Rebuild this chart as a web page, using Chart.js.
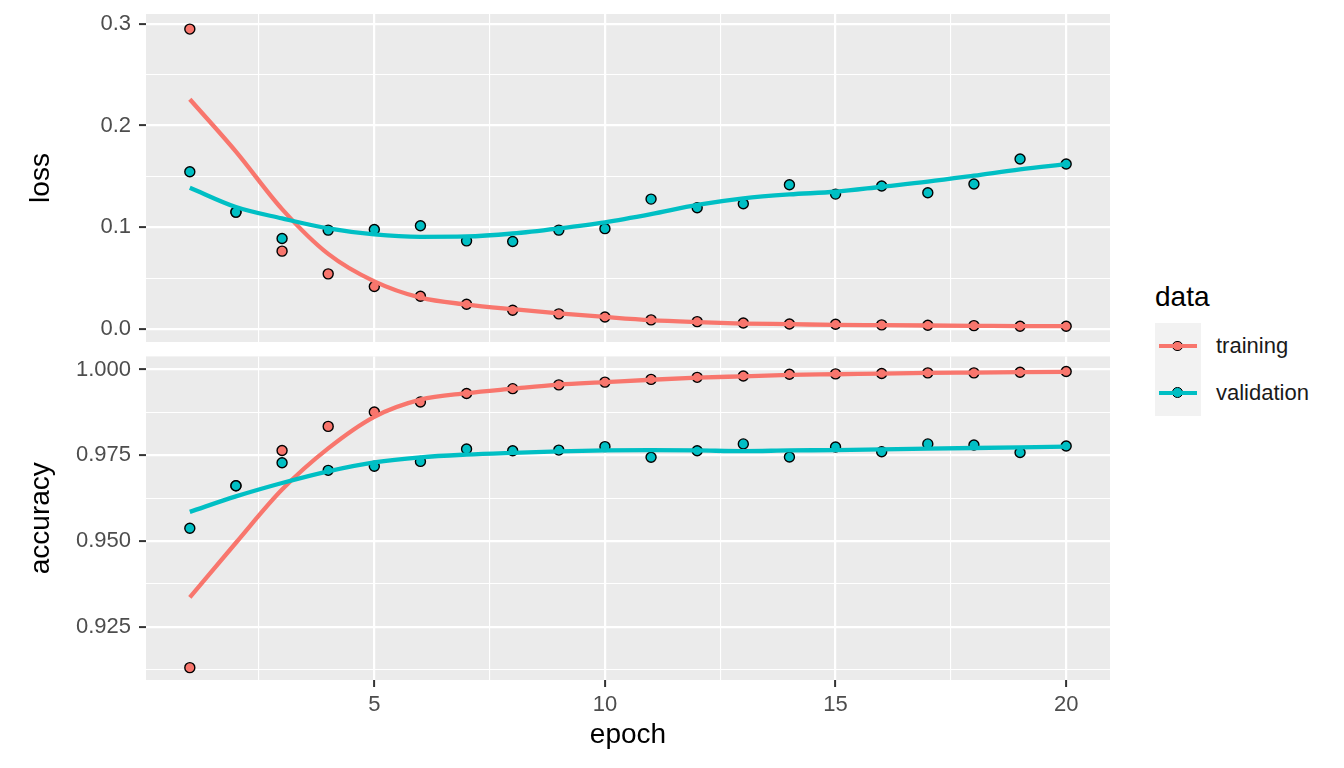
<!DOCTYPE html>
<html>
<head>
<meta charset="utf-8">
<title>loss / accuracy by epoch</title>
<script src="https://cdn.jsdelivr.net/npm/chart.js@4/dist/chart.umd.min.js"></script>
<style>
    body { margin: 0; background: #ffffff; font-family: "Liberation Sans", Arial, sans-serif; }
    #wrap { position: relative; width: 1344px; height: 768px; overflow: hidden; }
    #wrap canvas { position: absolute; left: 0; }
    #loss-chart { top: 0; }
    #accuracy-chart { top: 350px; }
    #legend-title { position: absolute; left: 1155px; top: 282px; font-size: 28px; line-height: 30px; color: #000; }
    #legend-keys { position: absolute; left: 1155px; top: 323px; }
    .legend-row { position: relative; height: 46.5px; }
    .legend-key { position: absolute; left: 0; top: 0; width: 46px; height: 46.5px; background: #F2F2F2; }
    .legend-key .dot { position: absolute; left: 17.4px; top: 17.6px; width: 8.6px; height: 8.6px; border: 1.3px solid #000; border-radius: 50%; }
    .legend-key .bar { position: absolute; left: 4px; top: 21.1px; width: 38px; height: 4.3px; }
    .legend-label { position: absolute; left: 61px; top: 0; line-height: 46.5px; font-size: 22px; color: #1a1a1a; white-space: nowrap; }
</style>
</head>
<body>
<div id="wrap">
    <canvas id="loss-chart" width="1120" height="350"></canvas>
    <canvas id="accuracy-chart" width="1120" height="418"></canvas>
    <div id="legend-title">data</div>
    <div id="legend-keys"></div>
</div>
<script>
// Values
const EPOCHS = [1, 2, 3, 4, 5, 6, 7, 8, 9, 10, 11, 12, 13, 14, 15, 16, 17, 18, 19, 20];
const SERIES_NAMES = ['training', 'validation'];
const SERIES_COLORS = ['#F8766D', '#00BFC4'];

const LOSS_TRAINING = [0.2947, 0.1150, 0.0767, 0.0544, 0.0420, 0.0324, 0.0246, 0.0187, 0.0151, 0.0121,
    0.0092, 0.0075, 0.0062, 0.0052, 0.0049, 0.0043, 0.0039, 0.0036, 0.0030, 0.0030];
const LOSS_VALIDATION = [0.1547, 0.1150, 0.0891, 0.0973, 0.0980, 0.1016, 0.0868, 0.0862, 0.0973, 0.0988,
    0.1278, 0.1193, 0.1232, 0.1419, 0.1327, 0.1406, 0.1340, 0.1426, 0.1672, 0.1622];
const ACC_TRAINING = [0.9131, 0.9661, 0.9764, 0.9834, 0.9876, 0.9905, 0.9930, 0.9944, 0.9955, 0.9963,
    0.9971, 0.9977, 0.9981, 0.9986, 0.9987, 0.9988, 0.9990, 0.9990, 0.9992, 0.9994];
const ACC_VALIDATION = [0.9537, 0.9661, 0.9728, 0.9706, 0.9718, 0.9732, 0.9768, 0.9763, 0.9765, 0.9775,
    0.9744, 0.9763, 0.9783, 0.9745, 0.9774, 0.9760, 0.9783, 0.9780, 0.9758, 0.9777];

// Smoothed (loess) curves, read at each epoch
const LOSS_TRAINING_SMOOTH = [0.2258, 0.1744, 0.1180, 0.0740, 0.0470, 0.0310, 0.0243, 0.0197, 0.0157, 0.0121,
    0.0089, 0.0070, 0.0056, 0.0050, 0.0043, 0.0040, 0.0037, 0.0034, 0.0031, 0.0030];
const LOSS_VALIDATION_SMOOTH = [0.1390, 0.1200, 0.1088, 0.0990, 0.0931, 0.0908, 0.0911, 0.0940, 0.0990, 0.1050,
    0.1130, 0.1220, 0.1285, 0.1324, 0.1350, 0.1399, 0.1449, 0.1508, 0.1570, 0.1622];
const ACC_TRAINING_SMOOTH = [0.9336, 0.9495, 0.9650, 0.9770, 0.9862, 0.9912, 0.9931, 0.9944, 0.9956, 0.9963,
    0.9970, 0.9976, 0.9980, 0.9984, 0.9986, 0.9988, 0.9990, 0.9991, 0.9992, 0.9993];
const ACC_VALIDATION_SMOOTH = [0.9585, 0.9630, 0.9669, 0.9703, 0.9729, 0.9744, 0.9752, 0.9757, 0.9761, 0.9764,
    0.9765, 0.9764, 0.9762, 0.9764, 0.9765, 0.9767, 0.9769, 0.9771, 0.9773, 0.9775];

// Axis breaks
const EPOCH_TICKS = [5, 10, 15, 20];
const EPOCH_TICK_LABELS = ['5', '10', '15', '20'];
const EPOCH_MINOR_TICKS = [2.5, 7.5, 12.5, 17.5];
const LOSS_TICKS = [0, 0.1, 0.2, 0.3];
const LOSS_TICK_LABELS = ['0.0', '0.1', '0.2', '0.3'];
const LOSS_MINOR_TICKS = [0.05, 0.15, 0.25];
const ACC_TICKS = [0.925, 0.95, 0.975, 1.0];
const ACC_TICK_LABELS = ['0.925', '0.950', '0.975', '1.000'];
const ACC_MINOR_TICKS = [0.9125, 0.9375, 0.9625, 0.9875];

const FONT = '"Liberation Sans", Arial, sans-serif';
Chart.defaults.font.family = FONT;

// Grey panel behind the grid lines
const panelBackground = {
    id: 'panelBackground',
    beforeDraw(chart) {
        const { ctx, chartArea } = chart;
        ctx.save();
        ctx.fillStyle = '#EBEBEB';
        ctx.fillRect(chartArea.left, chartArea.top, chartArea.width, chartArea.height);
        ctx.restore();
    }
};

/**
 * Build an axis definition with ggplot-like major/minor grid
 */
function buildAxis(majors, labels, minors, extra) {
    const axis = {
        type: 'linear',
        border: { display: false },
        afterBuildTicks(scale) {
            const ticks = majors.map(v => ({ value: v, isMajor: true }))
                .concat(minors.map(v => ({ value: v, isMajor: false })));
            ticks.sort((a, b) => a.value - b.value);
            scale.ticks = ticks;
        },
        ticks: {
            autoSkip: false,
            maxRotation: 0,
            color: '#4D4D4D',
            font: { size: 22 },
            callback(value) {
                const i = majors.indexOf(value);
                return i >= 0 ? labels[i] : '';
            }
        },
        grid: {
            color: '#FFFFFF',
            lineWidth: ctx => (ctx.tick && ctx.tick.isMajor) ? 2.2 : 1.1,
            tickLength: 7,
            tickWidth: 2,
            tickColor: ctx => (ctx.tick && ctx.tick.isMajor) ? '#333333' : 'rgba(0,0,0,0)'
        }
    };
    return Object.assign(axis, extra);
}

/**
 * Datasets for one panel: points first, smooth lines on top
 */
function buildDatasets(pointSeries, smoothSeries) {
    const datasets = [];
    pointSeries.forEach((values, i) => {
        datasets.push({
            label: SERIES_NAMES[i] + ' points',
            data: EPOCHS.map((e, k) => ({ x: e, y: values[k] })),
            showLine: false,
            pointRadius: 5,
            pointBorderWidth: 1.4,
            pointBorderColor: '#000000',
            pointBackgroundColor: SERIES_COLORS[i],
            backgroundColor: SERIES_COLORS[i],
            order: 4 - i
        });
    });
    smoothSeries.forEach((values, i) => {
        datasets.push({
            label: SERIES_NAMES[i],
            data: EPOCHS.map((e, k) => ({ x: e, y: values[k] })),
            showLine: true,
            borderColor: SERIES_COLORS[i],
            borderWidth: 4.3,
            pointRadius: 0,
            fill: false,
            cubicInterpolationMode: 'monotone',
            order: 2 - i
        });
    });
    return datasets;
}

function renderPanel(canvasId, opts) {
    const ctx = document.getElementById(canvasId).getContext('2d');
    return new Chart(ctx, {
        type: 'scatter',
        data: { datasets: buildDatasets(opts.points, opts.smooth) },
        options: {
            responsive: false,
            animation: false,
            events: [],
            layout: { padding: opts.padding },
            plugins: { legend: { display: false }, tooltip: { enabled: false } },
            scales: {
                x: opts.x,
                y: opts.y
            }
        },
        plugins: [panelBackground]
    });
}

// Top panel: loss
renderPanel('loss-chart', {
    points: [LOSS_TRAINING, LOSS_VALIDATION],
    smooth: [LOSS_TRAINING_SMOOTH, LOSS_VALIDATION_SMOOTH],
    padding: { top: 14, right: 10, bottom: 8, left: 0 },
    x: buildAxis(EPOCH_TICKS, EPOCH_TICK_LABELS, EPOCH_MINOR_TICKS, {
        min: 0.05, max: 20.95,
        afterFit(scale) { scale.height = 0; scale.paddingLeft = 0; scale.paddingRight = 0; }
    }),
    y: buildAxis(LOSS_TICKS, LOSS_TICK_LABELS, LOSS_MINOR_TICKS, {
        min: -0.0125, max: 0.3095,
        title: { display: true, text: 'loss', color: '#000000', font: { size: 28 }, padding: { top: 24, bottom: 0 } },
        afterFit(scale) { scale.width = 146; scale.paddingTop = 0; scale.paddingBottom = 0; }
    })
});

// Bottom panel: accuracy
renderPanel('accuracy-chart', {
    points: [ACC_TRAINING, ACC_VALIDATION],
    smooth: [ACC_TRAINING_SMOOTH, ACC_VALIDATION_SMOOTH],
    padding: { top: 6, right: 10, bottom: 0, left: 0 },
    x: buildAxis(EPOCH_TICKS, EPOCH_TICK_LABELS, EPOCH_MINOR_TICKS, {
        min: 0.05, max: 20.95,
        title: { display: true, text: 'epoch', color: '#000000', font: { size: 28 }, padding: { top: 0, bottom: 16 } },
        afterFit(scale) { scale.height = 88; scale.paddingLeft = 0; scale.paddingRight = 0; }
    }),
    y: buildAxis(ACC_TICKS, ACC_TICK_LABELS, ACC_MINOR_TICKS, {
        min: 0.9095, max: 1.0038,
        title: { display: true, text: 'accuracy', color: '#000000', font: { size: 28 }, padding: { top: 24, bottom: 0 } },
        afterFit(scale) { scale.width = 146; scale.paddingTop = 0; scale.paddingBottom = 0; }
    })
});

// Tick label padding differs per axis; the top panel has no x tick marks
Object.values(Chart.instances).forEach(chart => {
    chart.options.scales.x.ticks.padding = 5;
    chart.options.scales.y.ticks.padding = 8;
    chart.options.scales.x.grid.drawTicks = chart.canvas.id === 'accuracy-chart';
    chart.update('none');
});

// Legend (ggplot style key: line over point)
const legendKeys = document.getElementById('legend-keys');
SERIES_NAMES.forEach((name, i) => {
    const row = document.createElement('div');
    row.className = 'legend-row';
    row.innerHTML =
        '<div class="legend-key">' +
        '<span class="dot" style="background:' + SERIES_COLORS[i] + '"></span>' +
        '<span class="bar" style="background:' + SERIES_COLORS[i] + '"></span>' +
        '</div>' +
        '<div class="legend-label">' + name + '</div>';
    legendKeys.appendChild(row);
});
</script>
</body>
</html>
